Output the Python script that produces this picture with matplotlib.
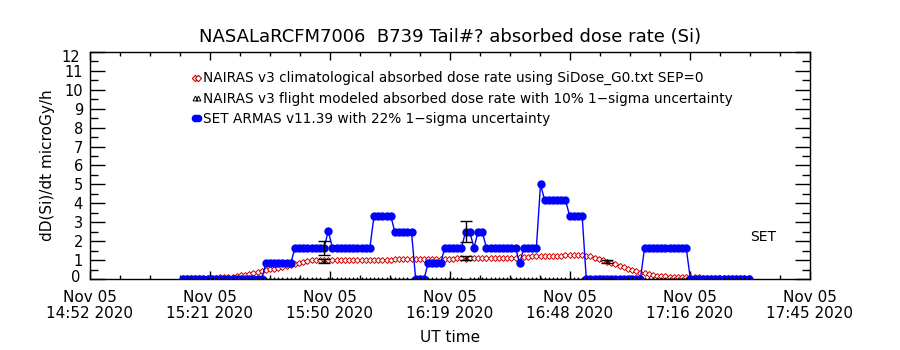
import numpy as np
import pandas as pd
import matplotlib
matplotlib.use('Agg')
import matplotlib.pyplot as plt
import matplotlib.dates as mdates
import matplotlib.ticker as mticker
from matplotlib.lines import Line2D

# time grid: one sample per minute, Nov 05 2020
start = '2020-11-05 15:15'
x_lo, x_hi = '2020-11-05 14:52:45', '2020-11-05 17:45:45'

# SET ARMAS absorbed dose rate (microGy/h)
set_armas = [
    0.0, 0.0, 0.0, 0.0, 0.0, 0.0, 0.0, 0.0, 0.0, 0.0,
    0.0, 0.0, 0.0, 0.0, 0.0, 0.0, 0.0, 0.0, 0.0, 0.0,
    0.84, 0.84, 0.84, 0.84, 0.84, 0.84, 0.84,
    1.65, 1.65, 1.65, 1.65, 1.65, 1.65, 1.65, 1.65,
    2.53,
    1.65, 1.65, 1.65, 1.65, 1.65, 1.65, 1.65, 1.65, 1.65, 1.65,
    3.34, 3.34, 3.34, 3.34, 3.34,
    2.49, 2.49, 2.49, 2.49, 2.49,
    0.0, 0.0, 0.0,
    0.83, 0.83, 0.83, 0.83,
    1.65, 1.65, 1.65, 1.65, 1.65,
    2.50, 2.50, 1.65, 2.50, 2.50,
    1.65, 1.65, 1.65, 1.65, 1.65, 1.65, 1.65, 1.65,
    0.83,
    1.65, 1.65, 1.65, 1.65,
    5.00,
    4.16, 4.16, 4.16, 4.16, 4.16, 4.16,
    3.34, 3.34, 3.34, 3.34,
    0.0, 0.0, 0.0, 0.0, 0.0, 0.0, 0.0, 0.0, 0.0, 0.0, 0.0, 0.0, 0.0, 0.0,
    1.65, 1.65, 1.65, 1.65, 1.65, 1.65, 1.65, 1.65, 1.65, 1.65, 1.65,
    0.0, 0.0, 0.0, 0.0, 0.0, 0.0, 0.0, 0.0, 0.0, 0.0, 0.0, 0.0, 0.0, 0.0, 0.0,
]

# NAIRAS v3 climatological absorbed dose rate
clim = [
    0.05, 0.05, 0.05, 0.05, 0.05, 0.06, 0.06, 0.06, 0.07, 0.08, 0.09, 0.10,
    0.12, 0.15, 0.19, 0.23, 0.28, 0.33, 0.38, 0.43,
    0.47, 0.51, 0.55, 0.60, 0.64, 0.69, 0.74, 0.80, 0.86, 0.91, 0.96, 1.00,
    1.00, 1.01, 1.00, 1.01, 1.01, 1.00, 1.01, 1.02, 1.01, 1.02,
    1.02, 1.01, 1.02, 1.03, 1.02, 1.03, 1.03, 1.02, 1.03,
    1.04, 1.04, 1.05, 1.04, 1.05, 1.05, 1.06, 1.06, 1.05, 1.06, 1.07, 1.07, 1.08,
    1.08, 1.08, 1.09, 1.09, 1.08, 1.09, 1.10, 1.09, 1.10, 1.10,
    1.11, 1.10, 1.11, 1.12, 1.11, 1.12, 1.13, 1.14, 1.16,
    1.18, 1.20, 1.21, 1.22, 1.22, 1.23, 1.23, 1.24, 1.24, 1.25, 1.25, 1.25, 1.26, 1.25,
    1.24, 1.20, 1.12, 1.05, 0.98, 0.92, 0.85, 0.78, 0.71, 0.63, 0.55, 0.47, 0.40, 0.34, 0.29,
    0.25, 0.21, 0.18, 0.16, 0.14, 0.13, 0.12, 0.11, 0.10, 0.09, 0.09, 0.08, 0.08,
    0.07, 0.07, 0.07, 0.06, 0.06, 0.06, 0.06, 0.05, 0.05, 0.05, 0.05, 0.05,
]

# NAIRAS v3 flight modeled absorbed dose rate (only 3 non-zero samples)
flight = [
    0.0, 0.0, 0.0, 0.0, 0.0, 0.0, 0.0, 0.0, 0.0, 0.0,
    0.0, 0.0, 0.0, 0.0, 0.0, 0.0, 0.0, 0.0, 0.0, 0.0,
    0.0, 0.0, 0.0, 0.0, 0.0, 0.0, 0.0, 0.0, 0.0, 0.0,
    0.0, 0.0, 0.0, 0.0, 0.95, 0.0, 0.0, 0.0, 0.0, 0.0,
    0.0, 0.0, 0.0, 0.0, 0.0, 0.0, 0.0, 0.0, 0.0, 0.0,
    0.0, 0.0, 0.0, 0.0, 0.0, 0.0, 0.0, 0.0, 0.0, 0.0,
    0.0, 0.0, 0.0, 0.0, 0.0, 0.0, 0.0, 0.0, 1.09, 0.0,
    0.0, 0.0, 0.0, 0.0, 0.0, 0.0, 0.0, 0.0, 0.0, 0.0,
    0.0, 0.0, 0.0, 0.0, 0.0, 0.0, 0.0, 0.0, 0.0, 0.0,
    0.0, 0.0, 0.0, 0.0, 0.0, 0.0, 0.0, 0.0, 0.0, 0.0,
    0.0, 0.0, 0.93, 0.0, 0.0, 0.0, 0.0, 0.0, 0.0, 0.0,
    0.0, 0.0, 0.0, 0.0, 0.0, 0.0, 0.0, 0.0, 0.0, 0.0,
    0.0, 0.0, 0.0, 0.0, 0.0, 0.0, 0.0, 0.0, 0.0, 0.0,
    0.0, 0.0, 0.0, 0.0, 0.0, 0.0, 0.0,
]

# times where 1-sigma error bars are drawn
err_times = ['15:49', '16:23', '16:57']
flight_sigma = 0.10
set_sigma = 0.22

legend_labels = [
    'NAIRAS v3 climatological absorbed dose rate using SiDose_G0.txt SEP=0',
    'NAIRAS v3 flight modeled absorbed dose rate with 10% 1\u2212sigma uncertainty',
    'SET ARMAS v11.39 with 22% 1\u2212sigma uncertainty',
]

red = '#d00000'
blue = '#0000ff'

times = pd.date_range(start, periods=len(clim), freq='1min')

fig = plt.figure(figsize=(9, 3.5), dpi=100)
ax = fig.add_axes([0.1, 0.2029, 0.8, 0.6485])

ax.plot(times, clim, color=red, lw=0.6, marker='D', ms=3.0,
        mfc='white', mec=red, mew=0.7, zorder=2)
ax.plot(times, set_armas, color=blue, lw=1.0, marker='o', ms=5,
        mfc=blue, mec=blue, zorder=3)
ax.plot(times, flight, ls='none', marker='^', ms=2.6, mfc='none',
        mec='black', mew=0.6, zorder=4)

# error bars
et = pd.to_datetime(['2020-11-05 ' + t for t in err_times])
idx = times.get_indexer(et)
fv = np.array(flight)[idx]
sv = np.array(set_armas)[idx]
ax.errorbar(et, fv, yerr=flight_sigma * fv, fmt='none', ecolor='black',
            elinewidth=1, capsize=4, capthick=1, zorder=5)
ax.errorbar(et, sv, yerr=set_sigma * sv, fmt='none', ecolor='black',
            elinewidth=1, capsize=4, capthick=1, zorder=5)

# axes limits / ticks
x0, x1 = mdates.date2num(pd.Timestamp(x_lo)), mdates.date2num(pd.Timestamp(x_hi))
ax.set_xlim(x0, x1)
ax.set_ylim(0, 12)
ax.xaxis.set_major_locator(mticker.FixedLocator(np.linspace(x0, x1, 7)))
ax.xaxis.set_minor_locator(mticker.FixedLocator(np.linspace(x0, x1, 25)))
ax.xaxis.set_major_formatter(mdates.DateFormatter('%b %d\n%H:%M %Y'))
ax.set_yticks(range(13))
ax.yaxis.set_minor_locator(mticker.MultipleLocator(0.5))
ax.set_yticklabels([''] + [str(v) for v in range(1, 12)] + [''])

ax.tick_params(axis='x', which='major', direction='in', length=6, width=1,
               top=True, bottom=True, labelsize=11, pad=8)
ax.tick_params(axis='x', which='minor', direction='in', length=3, width=1,
               top=True, bottom=True)
ax.tick_params(axis='y', which='major', direction='in', length=11, width=1,
               left=True, right=True, labelsize=10.5, pad=5)
ax.tick_params(axis='y', which='minor', direction='in', length=6, width=1,
               left=True, right=True)
for lbl in ax.get_xticklabels():
    lbl.set_linespacing(1.1)
for sp in ax.spines.values():
    sp.set_linewidth(1)

# edge labels nudged inward like the original
ax.text(-0.014, 0.975, '12', transform=ax.transAxes, ha='right', va='center', fontsize=10.5)
ax.text(-0.014, 0.008, '0', transform=ax.transAxes, ha='right', va='center', fontsize=10.5)

ax.set_title('NASALaRCFM7006  B739 Tail#? absorbed dose rate (Si)', fontsize=13, pad=7)
ax.set_ylabel('dD(Si)/dt microGy/h', fontsize=11, labelpad=7)
ax.set_xlabel('UT time', fontsize=11, labelpad=6)
ax.text(0.935, 0.185, 'SET', transform=ax.transAxes, ha='center', va='center', fontsize=10)

handles = [
    Line2D([], [], ls='none', marker='D', ms=3.2, mfc='white', mec=red, mew=0.8),
    Line2D([], [], ls='none', marker='^', ms=3.5, mfc='none', mec='black', mew=0.7),
    Line2D([], [], ls='none', marker='o', ms=4.5, mfc=blue, mec=blue),
]
ax.legend(handles, legend_labels, loc='upper left', bbox_to_anchor=(0.14, 0.915),
          frameon=False, fontsize=9.8, numpoints=2, handlelength=0.8,
          handletextpad=0.1, labelspacing=0.45, borderpad=0, borderaxespad=0)

fig.savefig('out.png', dpi=100)
